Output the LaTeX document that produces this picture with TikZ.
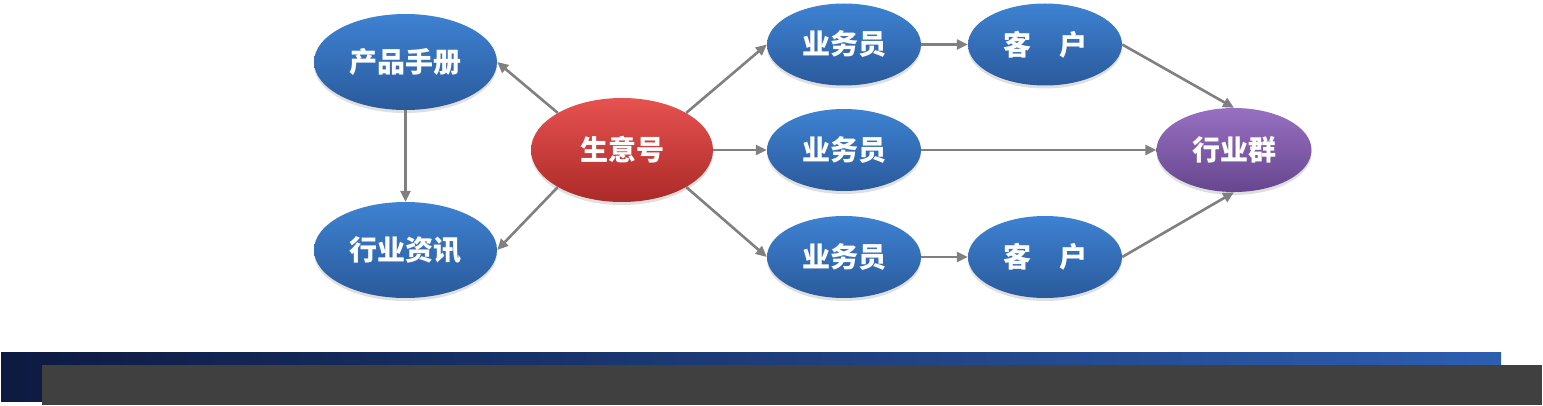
\documentclass[tikz,border=0pt]{standalone}
\usepackage{fontspec}
\newfontfamily\cjk{Noto Sans CJK SC}
\usetikzlibrary{shapes.geometric,arrows.meta,shadows}
\definecolor{bluetop}{RGB}{62,130,210}
\definecolor{bluebot}{RGB}{42,90,156}
\definecolor{redtop}{RGB}{230,82,80}
\definecolor{redbot}{RGB}{172,42,40}
\definecolor{purtop}{RGB}{152,112,194}
\definecolor{purbot}{RGB}{102,70,142}
\definecolor{connc}{RGB}{128,128,128}
\definecolor{barL}{RGB}{13,26,64}
\definecolor{barR}{RGB}{45,94,176}
\definecolor{barG}{RGB}{64,64,64}
\tikzset{
  ellbase/.style={ellipse, inner sep=0pt, text=white, font=\cjk\bfseries\fontsize{28}{32}\selectfont,
    drop shadow={shadow xshift=0pt, shadow yshift=-3pt, opacity=0.25}},
  blueell/.style={ellbase, top color=bluetop, bottom color=bluebot, minimum width=154pt, minimum height=82pt},
  bigblue/.style={ellbase, top color=bluetop, bottom color=bluebot, minimum width=183pt, minimum height=96pt},
  redell/.style={ellbase, top color=redtop, bottom color=redbot, minimum width=182pt, minimum height=104pt},
  purell/.style={ellbase, top color=purtop, bottom color=purbot, minimum width=155pt, minimum height=84pt},
  conn/.style={draw=connc, line width=2.6pt, -{Triangle[length=11pt,width=10pt]}}
}
\begin{document}
\begin{tikzpicture}[x=1pt,y=-1pt]
\useasboundingbox (0,0) rectangle (1543,406);
% bottom bars
\fill[left color=barL, right color=barR] (1,352) rectangle (1501,401);
\fill[barG] (42,365) rectangle (1542,405);
% nodes
\node[bigblue] (cp) at (405.5,62) {产品手册};
\node[bigblue] (hz) at (405.5,250) {行业资讯};
\node[redell] (syh) at (622,150) {生意号};
\node[blueell] (y1) at (844,44.5) {业务员};
\node[blueell] (y2) at (844,150) {业务员};
\node[blueell] (y3) at (844,257) {业务员};
\node[blueell] (k1) at (1045,44.5) {客　户};
\node[blueell] (k3) at (1045,257) {客　户};
\node[purell] (hyq) at (1234,150) {行业群};
% connectors
\draw[conn] (syh.150) -- (cp.east);
\draw[conn] (syh.210) -- (hz.east);
\draw[conn] (cp.south) -- (hz.north);
\draw[conn] (syh.30) -- (y1.west);
\draw[conn] (syh.east) -- (y2.west);
\draw[conn] (syh.330) -- (y3.west);
\draw[conn] (y1.east) -- (k1.west);
\draw[conn] (y3.east) -- (k3.west);
\draw[conn] (k1.east) -- (hyq.north);
\draw[conn] (y2.east) -- (hyq.west);
\draw[conn] (k3.east) -- (hyq.south);
\end{tikzpicture}
\end{document}
